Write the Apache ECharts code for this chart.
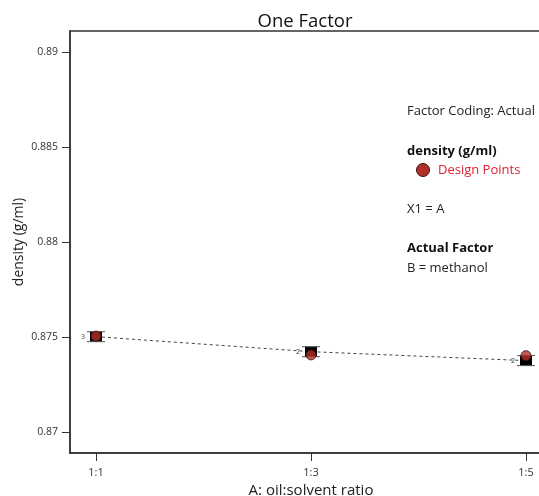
<!DOCTYPE html>
<html>
<head>
<meta charset="utf-8">
<script src="https://cdn.jsdelivr.net/npm/echarts@6/dist/echarts.min.js"></script>
<style>html,body{margin:0;padding:0;background:#fff}#c{width:539px;height:496px}</style>
</head>
<body>
<div id="c"></div>
<script>
var categories = ['1:1', '1:3', '1:5'];
var xPositions = [1, 3, 5];
var designPoints = [0.87505, 0.87406, 0.87402];
var predicted = [0.87502, 0.87423, 0.87376];
var replicates = ['3', '2', '2'];
var yTicks = [0.87, 0.875, 0.88, 0.885, 0.89];

var FONT = '"Open Sans", "Noto Sans", sans-serif';
var chart = echarts.init(document.getElementById('c'));

var lineData = xPositions.map(function (x, i) { return [x, predicted[i]]; });
var pointData = xPositions.map(function (x, i) { return [x, designPoints[i]]; });
var barData = xPositions.map(function (x, i) { return [x, predicted[i], replicates[i]]; });

chart.setOption({
  backgroundColor: '#ffffff',
  animation: false,
  title: {
    text: 'One Factor',
    left: 300, top: 7, textAlign: 'center',
    textStyle: { fontFamily: FONT, fontSize: 18.5, fontWeight: 'normal', color: '#111' }
  },
  grid: {
    left: 70, right: -13, top: 31, bottom: 43,
    outerBoundsMode: 'none', containLabel: false,
    show: true, borderColor: '#333', borderWidth: 1.5, backgroundColor: '#fff'
  },
  xAxis: {
    type: 'value', min: 0.758, max: 5.242,
    name: 'A: oil:solvent ratio', nameLocation: 'middle', nameGap: 30,
    nameTextStyle: { fontFamily: FONT, fontSize: 15, color: '#222' },
    axisLine: { lineStyle: { color: '#333', width: 1.5 } },
    axisTick: { show: true, inside: false, length: 8, customValues: xPositions, lineStyle: { color: '#333' } },
    axisLabel: {
      customValues: xPositions, margin: 14,
      fontFamily: FONT, fontSize: 11, color: '#333',
      formatter: function (v) { var i = xPositions.indexOf(v); return i >= 0 ? categories[i] : ''; }
    },
    splitLine: { show: false }
  },
  yAxis: {
    type: 'value', min: 0.8689, max: 0.8911,
    name: 'density (g/ml)', nameLocation: 'middle', nameGap: 44, nameMoveOverlap: false,
    nameTextStyle: { fontFamily: FONT, fontSize: 14, color: '#222' },
    axisLine: { show: true, lineStyle: { color: '#333', width: 1.5 } },
    axisTick: { show: true, inside: false, length: 8, customValues: yTicks, lineStyle: { color: '#333' } },
    axisLabel: {
      customValues: yTicks, margin: 12,
      fontFamily: FONT, fontSize: 10.5, color: '#333',
      formatter: function (v) { return String(+v.toFixed(3)); }
    },
    splitLine: { show: false }
  },
  series: [
    {
      type: 'line', data: lineData, symbol: 'none', z: 2,
      lineStyle: { color: '#444', width: 1, type: [3, 3] }
    },
    {
      type: 'custom', data: barData, z: 3,
      renderItem: function (params, api) {
        var p = api.coord([api.value(0), api.value(1)]);
        var w = 12, h = 10;
        return {
          type: 'group',
          children: [
            { type: 'rect', shape: { x: p[0] - w / 2, y: p[1] - h / 2, width: w, height: h }, style: { fill: '#000' } },
            { type: 'line', shape: { x1: p[0] - 9, y1: p[1] - h / 2, x2: p[0] + 9, y2: p[1] - h / 2 }, style: { stroke: '#555', lineWidth: 1 } },
            { type: 'line', shape: { x1: p[0] - 9, y1: p[1] + h / 2, x2: p[0] + 9, y2: p[1] + h / 2 }, style: { stroke: '#555', lineWidth: 1 } },
            { type: 'text', x: p[0] - 11, y: p[1], style: { text: api.value(2), fontSize: 7, fontFamily: FONT, fill: '#333', align: 'right', verticalAlign: 'middle' } }
          ]
        };
      }
    },
    {
      type: 'scatter', data: pointData, symbol: 'circle', symbolSize: 10, z: 4,
      itemStyle: { color: '#b3302a', borderColor: '#3a0e0c', borderWidth: 1 }
    }
  ],
  graphic: [
    { type: 'text', x: 407, y: 111, style: { text: 'Factor Coding: Actual', fontFamily: FONT, fontSize: 13, fill: '#222', verticalAlign: 'middle' } },
    { type: 'text', x: 407, y: 151, style: { text: 'density (g/ml)', fontFamily: FONT, fontSize: 13, fontWeight: 'bold', fill: '#111', verticalAlign: 'middle' } },
    { type: 'circle', shape: { cx: 423, cy: 170, r: 6.5 }, style: { fill: '#b3302a', stroke: '#3a0e0c', lineWidth: 1 } },
    { type: 'text', x: 438, y: 170, style: { text: 'Design Points', fontFamily: FONT, fontSize: 13, fill: '#e02030', verticalAlign: 'middle' } },
    { type: 'text', x: 407, y: 209, style: { text: 'X1 = A', fontFamily: FONT, fontSize: 13, fill: '#222', verticalAlign: 'middle' } },
    { type: 'text', x: 407, y: 248, style: { text: 'Actual Factor', fontFamily: FONT, fontSize: 13, fontWeight: 'bold', fill: '#111', verticalAlign: 'middle' } },
    { type: 'text', x: 407, y: 268, style: { text: 'B = methanol', fontFamily: FONT, fontSize: 13, fill: '#222', verticalAlign: 'middle' } }
  ]
});
</script>
</body>
</html>
